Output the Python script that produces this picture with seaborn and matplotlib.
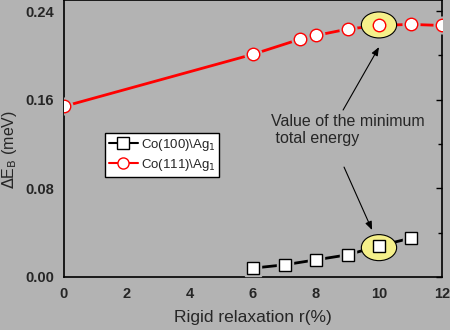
import matplotlib
matplotlib.use("Agg")
import matplotlib.pyplot as plt
import seaborn as sns
import pandas as pd
from matplotlib.patches import Ellipse
from matplotlib.ticker import MultipleLocator
from matplotlib.lines import Line2D

sns.set_style("white")
plt.rcParams['font.family'] = ['Liberation Sans', 'DejaVu Sans']

BG = "#b3b3b3"

# Data
r_100 = [6, 7, 8, 9, 10, 11]
e_100 = [0.008, 0.011, 0.0155, 0.020, 0.028, 0.035]
r_111 = [0, 6, 7.5, 8, 9, 10, 11, 12]
e_111 = [0.154, 0.201, 0.2147, 0.218, 0.2237, 0.227, 0.228, 0.227]
label_100 = "Co(100)\\Ag$_1$"
label_111 = "Co(111)\\Ag$_1$"

df = pd.concat([
    pd.DataFrame({"r": r_100, "E": e_100, "series": label_100}),
    pd.DataFrame({"r": r_111, "E": e_111, "series": label_111}),
])

fig = plt.figure(figsize=(4.5, 3.3), dpi=100, facecolor=BG)
ax = fig.add_axes([64/450, 1-277/330, (442-64)/450, 277/330])
ax.set_facecolor(BG)

palette = {label_100: "black", label_111: "red"}
markers = {label_100: "s", label_111: "o"}

sns.lineplot(data=df, x="r", y="E", hue="series", style="series",
             palette=palette, markers=markers, dashes=False, linewidth=2,
             markersize=9, markerfacecolor="white", markeredgewidth=1,
             ax=ax, legend=False, zorder=3)
# gap around markers (background halo), then markers on top
for xs, ys, col, m in [(r_100, e_100, "black", "s"), (r_111, e_111, "red", "o")]:
    ax.plot(xs, ys, linestyle="none", marker=m, markersize=12,
            markerfacecolor=BG, markeredgecolor=BG, zorder=4)
    ax.plot(xs, ys, linestyle="none", marker=m, markersize=9,
            markerfacecolor="white", markeredgecolor=col, markeredgewidth=1, zorder=5)

# highlight ellipses
for (xc, yc) in [(10, 0.2275), (10, 0.0265)]:
    ax.add_patch(Ellipse((xc, yc), width=1.12, height=0.0235,
                         facecolor="#f5f08a", edgecolor="black", lw=0.8, zorder=4.5))

ax.set_xlim(0, 12)
ax.set_ylim(0, 0.25)
ax.xaxis.set_major_locator(MultipleLocator(2))
ax.xaxis.set_minor_locator(MultipleLocator(1))
ax.yaxis.set_major_locator(MultipleLocator(0.08))
ax.yaxis.set_minor_locator(MultipleLocator(0.04))
ax.yaxis.set_major_formatter(matplotlib.ticker.FormatStrFormatter("%.2f"))

ax.tick_params(axis="both", which="major", direction="out", length=4, width=1,
               labelsize=10.5, color="black", pad=3)
ax.tick_params(axis="both", which="minor", direction="out", length=3, width=1, color="black")
ax.tick_params(axis="y", which="both", right=True, labelright=False)
for lab in ax.get_xticklabels() + ax.get_yticklabels():
    lab.set_fontweight("bold")
for t in ax.yaxis.get_major_ticks() + ax.yaxis.get_minor_ticks():
    t.tick2line.set_marker(matplotlib.lines.TICKLEFT)

for s in ax.spines.values():
    s.set_color("black")
    s.set_linewidth(1.2)

ax.set_xlabel("Rigid relaxation r(%)", fontsize=12.5, labelpad=7)
ax.set_ylabel("$\\Delta$E$_\\mathrm{B}$ (meV)", fontsize=11.5, labelpad=3)
ax.yaxis.set_label_coords(-(64-19)/378, (277-150)/277)

# legend
handles = [
    Line2D([], [], color="black", lw=1.5, marker="s", markersize=8,
           markerfacecolor="white", markeredgecolor="black"),
    Line2D([], [], color="red", lw=1.5, marker="o", markersize=8,
           markerfacecolor="white", markeredgecolor="red"),
]
leg = ax.legend(handles, [label_100, label_111], loc="upper left",
                bbox_to_anchor=((105-64)/378, (277-133)/277), fontsize=9.5,
                frameon=True, fancybox=False, edgecolor="black", framealpha=1,
                handlelength=2.2, handletextpad=0.2, borderpad=0.3,
                labelspacing=0.3, borderaxespad=0)
leg.get_frame().set_linewidth(1)
leg.set_zorder(10)

# annotation
ax.text(6.57, 0.1326, "Value of the minimum\n total energy", fontsize=11.5,
        ha="left", va="center", linespacing=1.15, zorder=6)
ax.annotate("", xy=(10.0, 0.2075), xytext=(8.86, 0.1507),
            arrowprops=dict(arrowstyle="-|>,head_length=0.5,head_width=0.2",
                            color="black", lw=0.8, shrinkA=0, shrinkB=0), zorder=6)
ax.annotate("", xy=(9.78, 0.0424), xytext=(8.89, 0.0992),
            arrowprops=dict(arrowstyle="-|>,head_length=0.5,head_width=0.2",
                            color="black", lw=0.8, shrinkA=0, shrinkB=0), zorder=6)

fig.savefig("out.png", dpi=100, facecolor=BG)
